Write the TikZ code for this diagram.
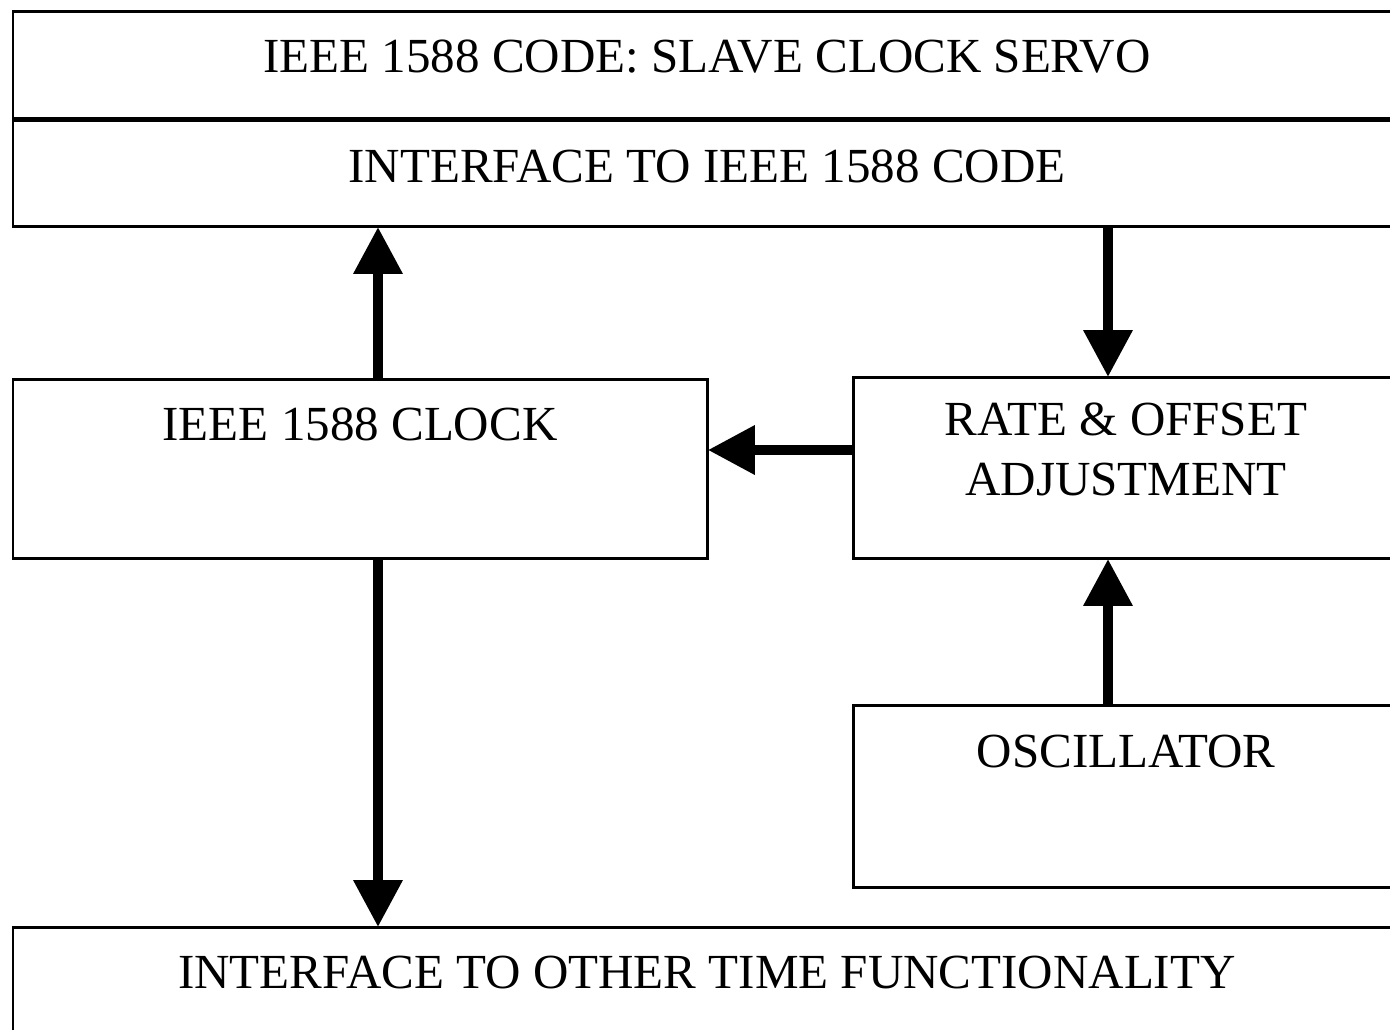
\documentclass[tikz,border=0pt]{standalone}
\usepackage{fontspec}
\setmainfont{Liberation Serif}
\usetikzlibrary{arrows.meta}
\begin{document}
\begin{tikzpicture}[x=0.02cm,y=-0.02cm,
    box/.style={draw, line width=0.06cm, anchor=north west, inner sep=0pt, outer sep=0pt},
    lbl/.style={anchor=base, align=center, font=\fontsize{27.9}{33.6}\selectfont, inner sep=0pt},
    arr/.style={line width=0.2cm, -{Triangle[width=0.94cm,length=0.94cm]}}]
    \useasboundingbox (0,0) rectangle (1390,1029);
    % boxes
    \node [box, minimum width=27.74cm, minimum height=2.18cm] (top) at (13,11) {};
    \node [box, minimum width=27.74cm, minimum height=2.14cm] (iface) at (13,120) {};
    \node [box, minimum width=13.9cm, minimum height=3.6cm] (clock) at (13,379) {};
    \node [box, minimum width=10.94cm, minimum height=3.64cm] (rate) at (853,377) {};
    \node [box, minimum width=10.94cm, minimum height=3.66cm] (osc) at (853,705) {};
    \node [box, minimum width=27.74cm, minimum height=3cm] (other) at (13,927) {};
    \draw [line width=0.1cm] (top.south west) -- (top.south east);
    % texts
    \node [lbl] (toptxt) at (707,72) {IEEE 1588 CODE: SLAVE CLOCK SERVO};
    \node [lbl] (ifacetxt) at (707,182) {INTERFACE TO IEEE 1588 CODE};
    \node [lbl] (clocktxt) at (360,440) {IEEE 1588 CLOCK};
    \node [lbl] (ratetxt) at (1126,495) {RATE \& OFFSET\\ADJUSTMENT};
    \node [lbl] (osctxt) at (1126,767) {OSCILLATOR};
    \node [lbl] (othertxt) at (707,988) {INTERFACE TO OTHER TIME FUNCTIONALITY};
    % arrows
    \coordinate (lx) at (378,0);
    \coordinate (rx) at (1108,0);
    \coordinate (hy) at (0,450);
    \draw [arr] (lx |- clock.north) -- (lx |- iface.south);
    \draw [arr] (rx |- iface.south) -- (rx |- rate.north);
    \draw [arr] (rate.west |- hy) -- (clock.east |- hy);
    \draw [arr] (rx |- osc.north) -- (rx |- rate.south);
    \draw [arr] (lx |- clock.south) -- (lx |- other.north);
\end{tikzpicture}
\end{document}
